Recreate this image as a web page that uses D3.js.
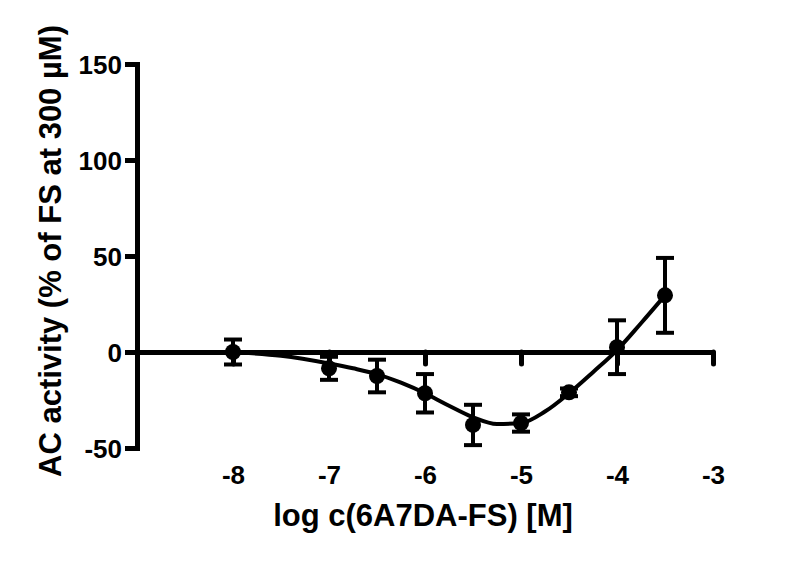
<!DOCTYPE html>
<html>
<head>
<meta charset="utf-8">
<script src="https://cdn.jsdelivr.net/npm/d3@7"></script>
<style>
  body { margin: 0; background: #fff; }
  svg text { font-family: "Liberation Sans", Arial, sans-serif; font-weight: bold; fill: #000; }
</style>
</head>
<body>
<svg id="chart" width="800" height="567"></svg>
<script>
"use strict";

// measured points (log molar concentration vs % activity)
const logConc = [-8, -7, -6.5, -6, -5.5, -5, -4.5, -4, -3.5];
const activity = [0, -8.5, -12.5, -21.5, -38, -37, -21, 2.5, 29.5];
const errors = [6.5, 6, 8.5, 10, 10.5, 4.5, 2, 14, 19.5];

// fitted curve
const curveX = [-8, -7.5, -7, -6.75, -6.5, -6.25, -6, -5.75, -5.5, -5.25, -5, -4.75, -4.5, -4.25, -4, -3.75, -3.5];
const curveY = [0, -2, -6, -8.5, -11.5, -16, -21.5, -28, -34, -37.5, -37, -31, -21.5, -10.5, 1, 15, 29.5];

const xTicks = [-8, -7, -6, -5, -4, -3];
const yTicks = [-50, 0, 50, 100, 150];

const xLabel = "log c(6A7DA-FS) [M]";
const yLabel = "AC activity (% of FS at 300 µM)";

const svg = d3.select("#chart");

const x = d3.scaleLinear().domain([-9, -3]).range([137, 713]);
const y = d3.scaleLinear().domain([-50, 150]).range([448, 64]);

// plain hyphen for negatives, like the original
const fmt = d => String(d);

// y axis
const yAxis = svg.append("g")
	.attr("transform", `translate(${x(-9)},0)`)
	.call(d3.axisLeft(y).tickValues(yTicks).tickSize(12).tickSizeOuter(0).tickPadding(3).tickFormat(fmt));
yAxis.select(".domain").attr("stroke-width", 5).attr("stroke-linecap", "square");
yAxis.selectAll(".tick line").attr("stroke-width", 5);
yAxis.selectAll(".tick text")
	.style("font-size", "26px")
	.attr("dy", "0.36em");

// x axis sits on y = 0
const xAxis = svg.append("g")
	.attr("transform", `translate(0,${y(0)})`)
	.call(d3.axisBottom(x).tickValues(xTicks).tickSize(12).tickSizeOuter(0).tickFormat(""));
xAxis.select(".domain").attr("stroke-width", 5);
xAxis.selectAll(".tick line").attr("stroke-width", 5).attr("stroke-linecap", "round");

// x tick labels below the plot
const xLabels = svg.append("g")
	.attr("transform", `translate(0,${y(-50)})`)
	.call(d3.axisBottom(x).tickValues(xTicks).tickSize(0).tickPadding(18).tickFormat(fmt));
xLabels.select(".domain").remove();
xLabels.selectAll(".tick text").style("font-size", "26px");

// fitted curve
const line = d3.line()
	.x((d, i) => x(curveX[i]))
	.y(d => y(d))
	.curve(d3.curveMonotoneX);
svg.append("path")
	.datum(curveY)
	.attr("fill", "none")
	.attr("stroke", "#000")
	.attr("stroke-width", 4)
	.attr("d", line);

// error bars
const pts = logConc.map((c, i) => ({ c: c, v: activity[i], e: errors[i] }));
const bars = svg.append("g")
	.attr("stroke", "#000")
	.attr("stroke-width", 4);
bars.selectAll(".whisker")
	.data(pts)
	.join("line")
	.attr("x1", d => x(d.c)).attr("x2", d => x(d.c))
	.attr("y1", d => y(d.v + d.e)).attr("y2", d => y(d.v - d.e));
bars.selectAll(".capTop")
	.data(pts)
	.join("line")
	.attr("x1", d => x(d.c) - 9).attr("x2", d => x(d.c) + 9)
	.attr("y1", d => y(d.v + d.e)).attr("y2", d => y(d.v + d.e));
bars.selectAll(".capBottom")
	.data(pts)
	.join("line")
	.attr("x1", d => x(d.c) - 9).attr("x2", d => x(d.c) + 9)
	.attr("y1", d => y(d.v - d.e)).attr("y2", d => y(d.v - d.e));

// markers
svg.append("g")
	.selectAll("circle")
	.data(pts)
	.join("circle")
	.attr("cx", d => x(d.c))
	.attr("cy", d => y(d.v))
	.attr("r", 8)
	.attr("fill", "#000");

// axis titles
svg.append("text")
	.attr("x", 423)
	.attr("y", 526)
	.attr("text-anchor", "middle")
	.style("font-size", "31px")
	.text(xLabel);

svg.append("text")
	.attr("transform", `translate(61,251) rotate(-90)`)
	.attr("text-anchor", "middle")
	.style("font-size", "31px")
	.text(yLabel);
</script>
</body>
</html>
